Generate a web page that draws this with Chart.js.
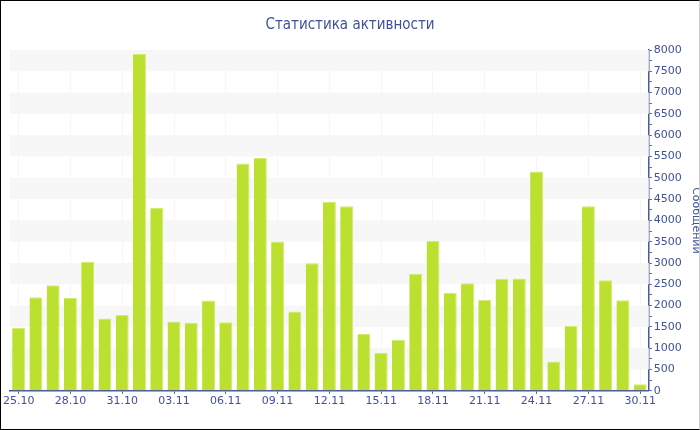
<!DOCTYPE html>
<html>
<head>
<meta charset="utf-8">
<script src="https://cdn.jsdelivr.net/npm/chart.js@4.4.1/dist/chart.umd.min.js"></script>
<style>
  html, body { margin: 0; padding: 0; background: #fff; }
  #wrap { position: relative; width: 700px; height: 430px; overflow: hidden; }
  #frame { position: absolute; left: 0; top: 0; width: 700px; height: 430px; box-sizing: border-box;
           border-top: 1px solid #000; border-left: 1px solid #000; border-bottom: 1px solid #000;
           border-right: 1px solid #cfcfcf; pointer-events: none; }
</style>
</head>
<body>
<div id="wrap">
  <canvas id="c" width="700" height="430"></canvas>
  <div id="frame"></div>
</div>
<script>
const chartTitle = 'Статистика активности';
const axisTitle = 'Сообщений';
const dates = ['25.10','26.10','27.10','28.10','29.10','30.10','31.10',
  '01.11','02.11','03.11','04.11','05.11','06.11','07.11','08.11','09.11','10.11',
  '11.11','12.11','13.11','14.11','15.11','16.11','17.11','18.11','19.11','20.11',
  '21.11','22.11','23.11','24.11','25.11','26.11','27.11','28.11','29.11','30.11'];
const messages = [1475, 2195, 2480, 2180, 3030, 1700, 1780,
  7905, 4290, 1625, 1600, 2120, 1610, 5335, 5465, 3505, 1860,
  2995, 4440, 4330, 1335, 895, 1200, 2745, 3520, 2300, 2525,
  2140, 2630, 2635, 5145, 690, 1520, 4335, 2595, 2125, 155];
const yTicksMin = 0, yTicksMax = 8000, yBandStep = 500;

const axisColor = '#4a5a9c';
const textColor = '#40519a';
const FONT = "'DejaVu Sans', Verdana, sans-serif";
const TITLE_FONT = "'DejaVu Sans Condensed', 'DejaVu Sans', sans-serif";

const bandsPlugin = {
  id: 'bands',
  beforeDatasetsDraw(chart) {
    const {ctx, chartArea} = chart;
    const y = chart.scales.y;
    ctx.save();
    ctx.fillStyle = '#f7f7f7';
    for (let v = yTicksMin + yBandStep; v < yTicksMax; v += 2 * yBandStep) {
      const top = y.getPixelForValue(v + yBandStep);
      const bot = y.getPixelForValue(v);
      ctx.fillRect(chartArea.left, top, chartArea.right - chartArea.left, bot - top);
    }
    ctx.restore();
  }
};

new Chart(document.getElementById('c'), {
  type: 'bar',
  data: {
    labels: dates,
    datasets: [{
      data: messages,
      backgroundColor: '#bce02f',
      borderColor: '#d2ec6e',
      borderWidth: {top: 1, right: 1, left: 0, bottom: 0},
      borderSkipped: 'bottom',
      barPercentage: 0.75,
      categoryPercentage: 1.0
    }]
  },
  plugins: [bandsPlugin],
  options: {
    responsive: false,
    animation: false,
    devicePixelRatio: 1,
    layout: { padding: { left: 0, right: 0, top: 0, bottom: 21 } },
    plugins: {
      legend: { display: false },
      tooltip: { enabled: false },
      title: {
        display: true,
        text: chartTitle,
        color: textColor,
        font: { family: TITLE_FONT, size: 15, weight: 'normal' },
        padding: { top: 16, bottom: 16 }
      }
    },
    scales: {
      x: {
        afterFit: s => { s.paddingLeft = 10; },
        grid: {
          offset: false,
          drawOnChartArea: true,
          color: ctx => (ctx.index % 3 === 0 ? 'rgba(0,0,0,0.035)' : 'rgba(0,0,0,0)'),
          tickColor: ctx => (ctx.index % 3 === 0 ? axisColor : 'rgba(0,0,0,0)'),
          tickLength: 3
        },
        border: { display: true, color: axisColor, width: 1.5 },
        ticks: {
          autoSkip: false,
          maxRotation: 0,
          padding: 1,
          color: textColor,
          font: { family: FONT, size: 11 },
          callback: (v, i) => (i % 3 === 0 ? dates[i] : '')
        }
      },
      y: {
        position: 'right',
        min: yTicksMin,
        max: yTicksMax,
        grid: { drawOnChartArea: false, tickLength: 3, tickColor: axisColor },
        border: { display: true, color: axisColor, width: 1.5 },
        ticks: {
          stepSize: 250,
          autoSkip: false,
          padding: 2,
          color: textColor,
          font: { family: FONT, size: 11 },
          callback: v => (v % 500 === 0 ? String(v) : '')
        },
        title: {
          display: true,
          text: axisTitle,
          color: textColor,
          font: { family: FONT, size: 11 },
          padding: { top: -2, bottom: 5 }
        }
      }
    }
  }
});
</script>
</body>
</html>
